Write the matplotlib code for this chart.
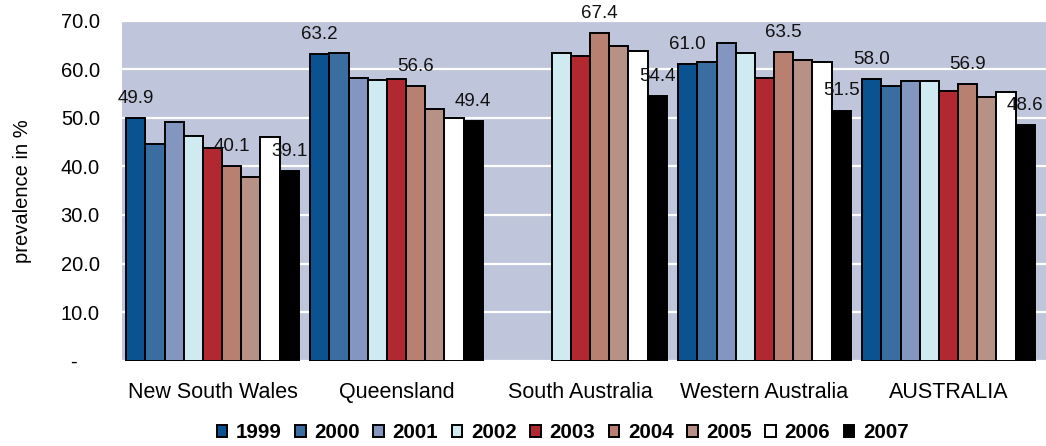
import numpy as np
import matplotlib
matplotlib.use("Agg")
import matplotlib.pyplot as plt

plt.rcParams['font.family'] = ['Liberation Sans', 'DejaVu Sans']

categories = ["New South Wales", "Queensland", "South Australia", "Western Australia", "AUSTRALIA"]
years = ["1999", "2000", "2001", "2002", "2003", "2004", "2005", "2006", "2007"]

nsw = [49.9, 44.6, 49.2, 46.2, 43.7, 40.1, 37.9, 46.0, 39.1]
qld = [63.2, 63.4, 58.2, 57.7, 57.9, 56.6, 51.9, 50.0, 49.4]
sa = [np.nan, np.nan, np.nan, 63.3, 62.7, 67.4, 64.8, 63.8, 54.4]
wa = [61.0, 61.6, 65.4, 63.4, 58.3, 63.5, 62.0, 61.5, 51.5]
aus = [58.0, 56.5, 57.6, 57.6, 55.6, 56.9, 54.2, 55.3, 48.6]

labelled_years = ["1999", "2004", "2007"]

colors = ["#0B5291", "#3A6EA0", "#8296BF", "#CFEAF0", "#B22830",
          "#B88070", "#B89186", "#FFFFFF", "#000000"]

yticks = [0, 10, 20, 30, 40, 50, 60, 70]
ytick_labels = ["-    ", "10.0", "20.0", "30.0", "40.0", "50.0", "60.0", "70.0"]

data = np.array([nsw, qld, sa, wa, aus])  # shape (cat, year)

W, H = 1046, 446
fig = plt.figure(figsize=(W / 100, H / 100), dpi=100)
ax = fig.add_axes([122 / W, 1 - 360.7 / H, 1 - 122 / W, (360.7 - 20.7) / H])
ax.set_facecolor("#BFC5DA")

x = np.arange(len(categories))
bw = 0.1043
n = len(years)
for j, yr in enumerate(years):
    xs = x + (j - (n - 1) / 2) * bw
    vals = data[:, j]
    ax.bar(xs, vals, width=bw, color=colors[j], edgecolor="black",
           linewidth=1.4, label=yr, zorder=3)
    if yr in labelled_years:
        for xi, v in zip(xs, vals):
            if np.isnan(v):
                continue
            ax.annotate(f"{v:.1f}", xy=(xi, v), xytext=(0, 8),
                        textcoords="offset points", ha="center", va="bottom",
                        fontsize=13.5, color="#111111", zorder=5)

ax.set_ylim(0, 70)
ax.set_xlim(-0.492, 4.53)
ax.set_yticks(yticks)
ax.set_yticklabels(ytick_labels, fontsize=14.5)
ax.set_xticks(x)
ax.set_xticklabels(categories, fontsize=15.5)
ax.tick_params(axis="y", length=0, pad=16)
ax.tick_params(axis="x", length=0, pad=15)
for s in ax.spines.values():
    s.set_visible(False)
ax.set_axisbelow(True)
ax.yaxis.grid(True, color="white", linewidth=1.6, zorder=0)

ax.set_ylabel("prevalence in %", fontsize=14.5)
ax.yaxis.set_label_coords((32 - 122) / (W - 122), 0.5)

handles, labels = ax.get_legend_handles_labels()
leg = fig.legend(handles, labels, loc="center", bbox_to_anchor=(562.5 / W, 1 - 433 / H),
                 ncol=9, frameon=False, prop={"weight": "bold", "size": 14.8},
                 handlelength=0.52, handleheight=0.52, handletextpad=0.42,
                 columnspacing=0.65, borderpad=0, borderaxespad=0)

fig.savefig("out.png", dpi=100)
